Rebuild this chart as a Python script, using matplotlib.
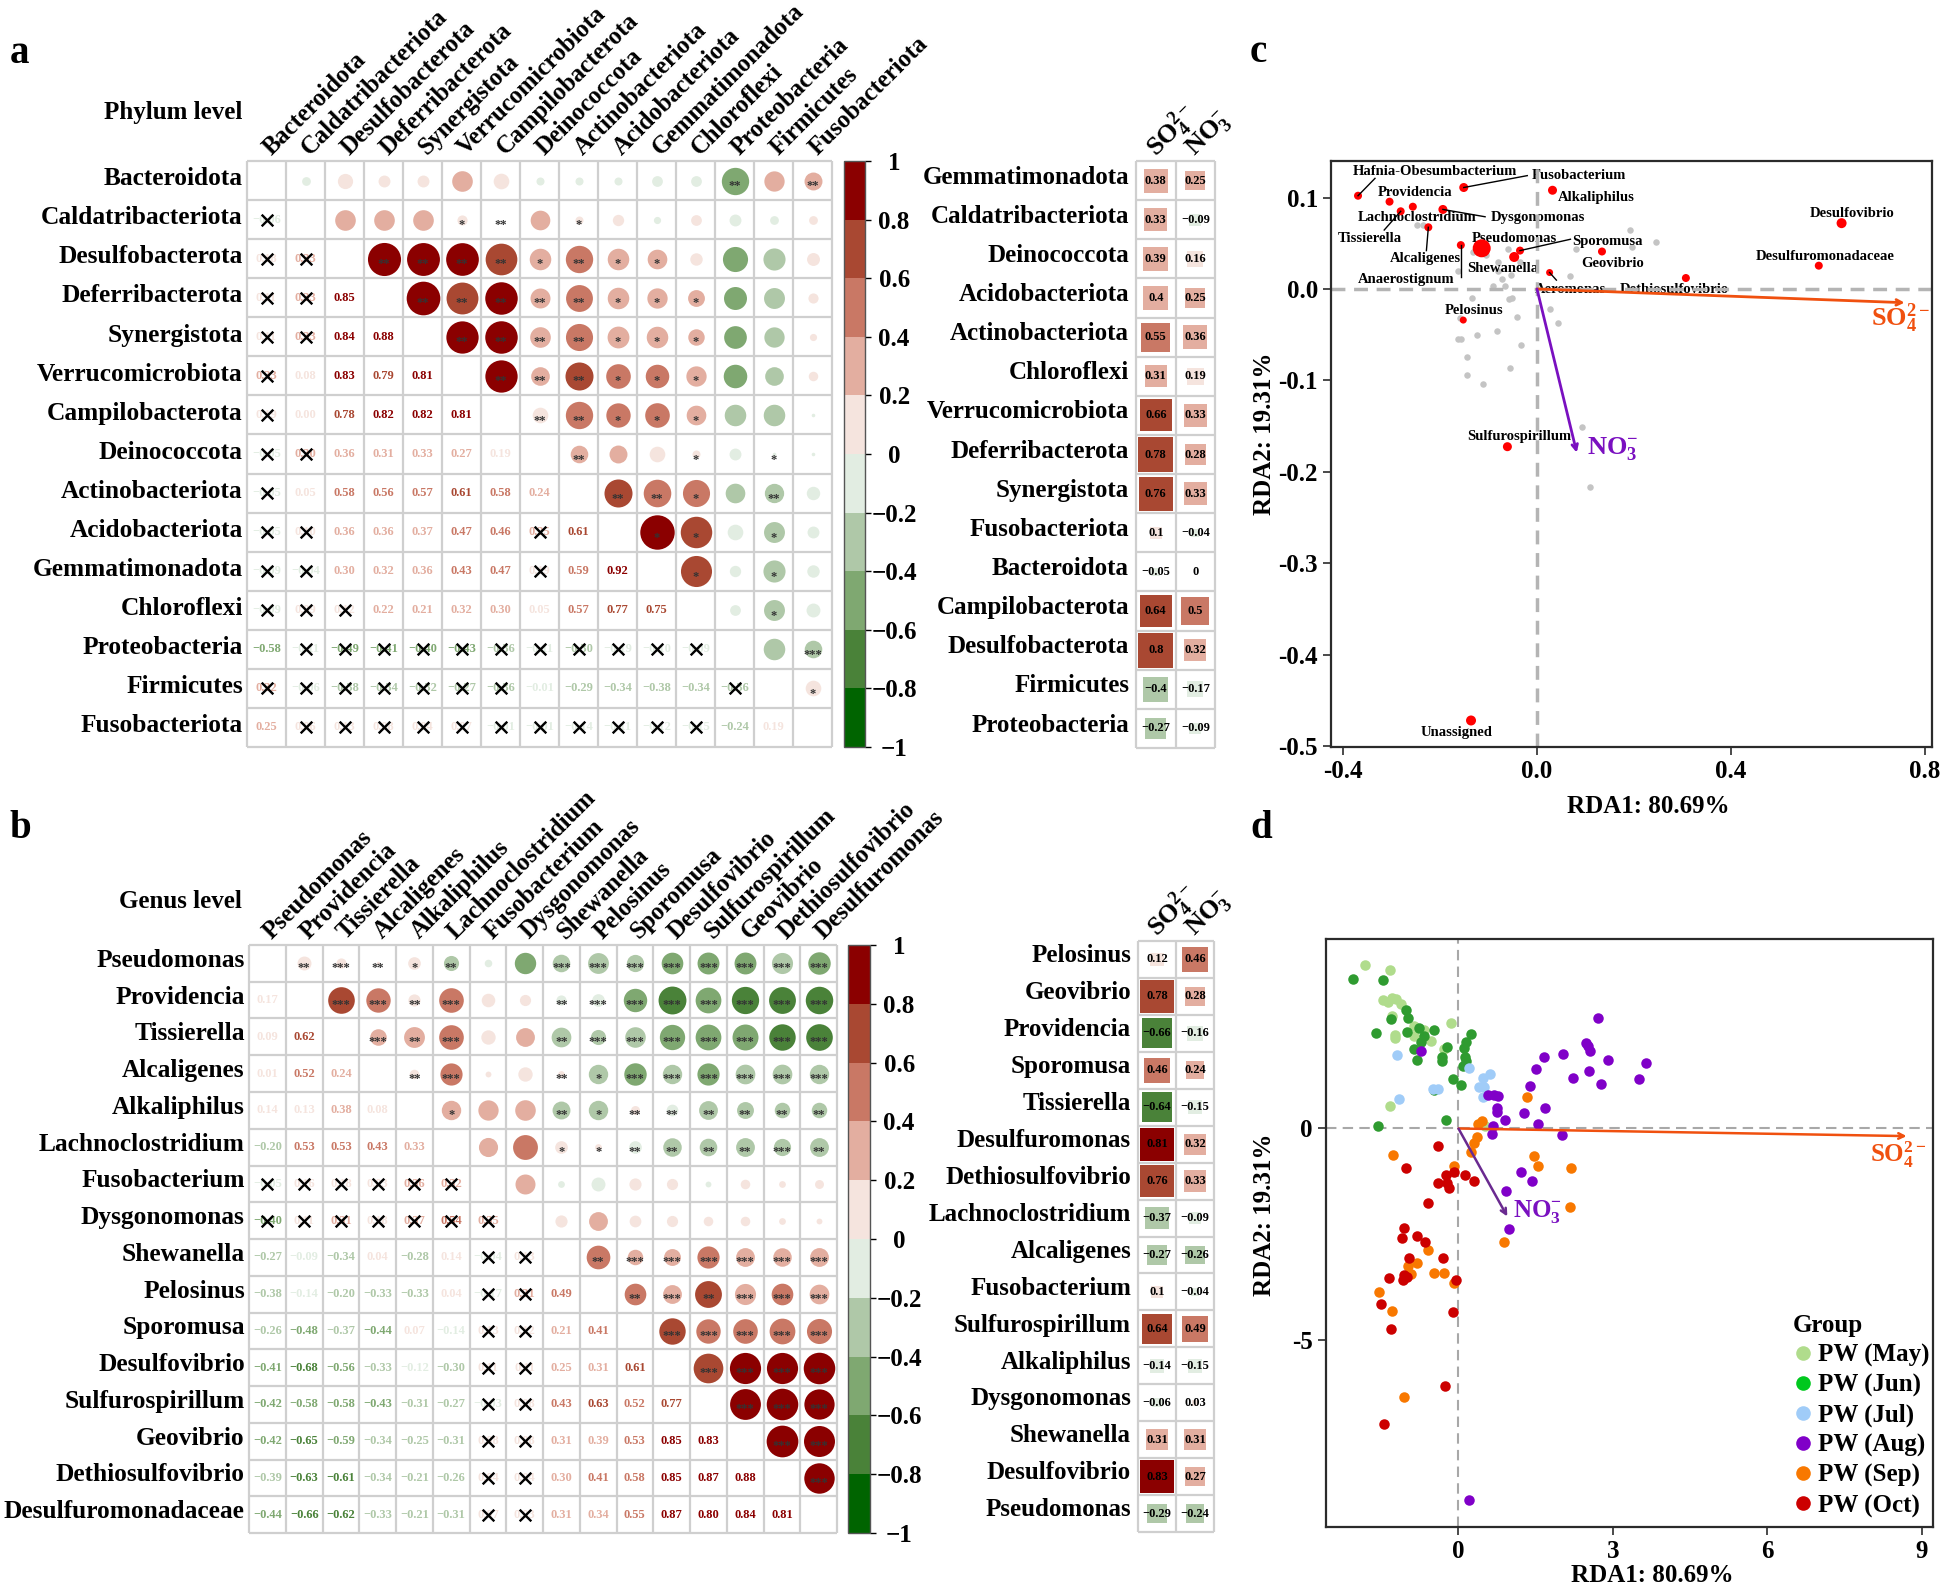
import numpy as np
import matplotlib
matplotlib.use("Agg")
import matplotlib.pyplot as plt
from matplotlib.cm import ScalarMappable
from matplotlib.colors import BoundaryNorm, ListedColormap
from matplotlib.lines import Line2D
from matplotlib.patches import Rectangle

plt.rcParams['font.family'] = ['Liberation Serif', 'DejaVu Serif']
plt.rcParams['font.weight'] = 'bold'
plt.rcParams['axes.labelweight'] = 'bold'
plt.rcParams['mathtext.fontset'] = 'custom'
plt.rcParams['mathtext.rm'] = 'Liberation Serif'
plt.rcParams['mathtext.it'] = 'Liberation Serif:italic'
plt.rcParams['mathtext.bf'] = 'Liberation Serif:bold'

W, H = 1944, 1582

# Panel a: phylum correlations
phyla = ["Bacteroidota", "Caldatribacteriota", "Desulfobacterota", "Deferribacterota",
         "Synergistota", "Verrucomicrobiota", "Campilobacterota", "Deinococcota",
         "Actinobacteriota", "Acidobacteriota", "Gemmatimonadota", "Chloroflexi",
         "Proteobacteria", "Firmicutes", "Fusobacteriota"]
phyla_r = [
    [-0.06],
    [0.18, 0.33],
    [0.11, 0.33, 0.85],
    [0.11, 0.33, 0.84, 0.88],
    [0.33, 0.08, 0.83, 0.79, 0.81],
    [0.19, 0.00, 0.78, 0.82, 0.82, 0.81],
    [-0.05, 0.30, 0.36, 0.31, 0.33, 0.27, 0.19],
    [-0.05, 0.05, 0.58, 0.56, 0.57, 0.61, 0.58, 0.24],
    [-0.05, 0.10, 0.36, 0.36, 0.37, 0.47, 0.46, 0.25, 0.61],
    [-0.09, -0.04, 0.30, 0.32, 0.36, 0.43, 0.47, 0.19, 0.59, 0.92],
    [-0.09, 0.09, 0.12, 0.22, 0.21, 0.32, 0.30, 0.05, 0.57, 0.77, 0.75],
    [-0.58, -0.11, -0.49, -0.41, -0.40, -0.43, -0.36, -0.11, -0.30, -0.19, -0.10, -0.09],
    [0.32, -0.06, -0.38, -0.34, -0.32, -0.27, -0.36, -0.01, -0.29, -0.34, -0.38, -0.34, -0.36],
    [0.25, 0.06, 0.13, 0.08, 0.04, 0.07, -0.01, -0.01, -0.14, -0.11, -0.12, -0.15, -0.24, 0.19],
]
phyla_stars = [
    ["", "", "", "", "", "", "", "", "", "", "", "**", "", "**"],
    ["", "", "", "*", "**", "", "*", "", "", "", "", "", ""],
    ["**", "**", "**", "**", "*", "**", "*", "*", "", "", "", ""],
    ["**", "**", "**", "**", "**", "*", "*", "*", "", "", ""],
    ["**", "**", "**", "**", "*", "*", "*", "", "", ""],
    ["**", "**", "**", "*", "*", "*", "", "", ""],
    ["**", "**", "*", "*", "*", "", "", ""],
    ["**", "", "", "*", "", "*", ""],
    ["**", "**", "*", "", "**", ""],
    ["*", "*", "", "*", ""],
    ["*", "", "*", ""],
    ["", "*", ""],
    ["", "***"],
    ["*"],
]
phyla_env = ["Gemmatimonadota", "Caldatribacteriota", "Deinococcota", "Acidobacteriota",
             "Actinobacteriota", "Chloroflexi", "Verrucomicrobiota", "Deferribacterota",
             "Synergistota", "Fusobacteriota", "Bacteroidota", "Campilobacterota",
             "Desulfobacterota", "Firmicutes", "Proteobacteria"]
phyla_so4 = [0.38, 0.33, 0.39, 0.4, 0.55, 0.31, 0.66, 0.78, 0.76, 0.1, -0.05, 0.64, 0.8, -0.4, -0.27]
phyla_no3 = [0.25, -0.09, 0.16, 0.25, 0.36, 0.19, 0.33, 0.28, 0.33, -0.04, 0, 0.5, 0.32, -0.17, -0.09]

# Panel b: genus correlations
genus_rows = ["Pseudomonas", "Providencia", "Tissierella", "Alcaligenes", "Alkaliphilus",
              "Lachnoclostridium", "Fusobacterium", "Dysgonomonas", "Shewanella", "Pelosinus",
              "Sporomusa", "Desulfovibrio", "Sulfurospirillum", "Geovibrio",
              "Dethiosulfovibrio", "Desulfuromonadaceae"]
genus_cols = genus_rows[:-1] + ["Desulfuromonas"]
genus_r = [
    [0.17],
    [0.09, 0.62],
    [0.01, 0.52, 0.24],
    [0.14, 0.13, 0.38, 0.08],
    [-0.20, 0.53, 0.53, 0.43, 0.33],
    [-0.05, 0.16, 0.18, 0.03, 0.36, 0.32],
    [-0.40, 0.11, 0.31, 0.18, 0.37, 0.54, 0.35],
    [-0.27, -0.09, -0.34, 0.04, -0.28, 0.14, -0.04, 0.13],
    [-0.38, -0.14, -0.20, -0.33, -0.33, 0.04, -0.17, 0.31, 0.49],
    [-0.26, -0.48, -0.37, -0.44, 0.07, -0.14, 0.13, 0.12, 0.21, 0.41],
    [-0.41, -0.68, -0.56, -0.33, -0.12, -0.30, 0.11, 0.11, 0.25, 0.31, 0.61],
    [-0.42, -0.58, -0.58, -0.43, -0.31, -0.27, -0.03, 0.08, 0.43, 0.63, 0.52, 0.77],
    [-0.42, -0.65, -0.59, -0.34, -0.25, -0.31, 0.08, 0.08, 0.31, 0.39, 0.53, 0.85, 0.83],
    [-0.39, -0.63, -0.61, -0.34, -0.21, -0.26, 0.04, 0.04, 0.30, 0.41, 0.58, 0.85, 0.87, 0.88],
    [-0.44, -0.66, -0.62, -0.33, -0.21, -0.31, 0.07, 0.03, 0.31, 0.34, 0.55, 0.87, 0.80, 0.84, 0.81],
]
genus_stars = [
    ["**", "***", "**", "*", "**", "", "", "***", "***", "***", "***", "***", "***", "***", "***"],
    ["***", "***", "**", "***", "", "", "**", "***", "***", "***", "***", "***", "***", "***"],
    ["***", "**", "***", "", "", "**", "***", "***", "***", "***", "***", "***", "***"],
    ["**", "***", "", "", "**", "*", "***", "***", "***", "***", "***", "***"],
    ["*", "", "", "**", "*", "**", "**", "**", "**", "**", "**"],
    ["", "", "*", "*", "**", "**", "**", "**", "***", "**"],
    ["", "", "", "", "", "", "", "", ""],
    ["", "", "", "", "", "", "", ""],
    ["**", "***", "***", "***", "***", "***", "***"],
    ["**", "***", "**", "***", "***", "***"],
    ["***", "***", "***", "***", "***"],
    ["***", "***", "***", "***"],
    ["***", "***", "***"],
    ["***", "***"],
    ["***"],
]
genus_env = ["Pelosinus", "Geovibrio", "Providencia", "Sporomusa", "Tissierella", "Desulfuromonas",
             "Dethiosulfovibrio", "Lachnoclostridium", "Alcaligenes", "Fusobacterium",
             "Sulfurospirillum", "Alkaliphilus", "Dysgonomonas", "Shewanella", "Desulfovibrio",
             "Pseudomonas"]
genus_so4 = [0.12, 0.78, -0.66, 0.46, -0.64, 0.81, 0.76, -0.37, -0.27, 0.1, 0.64, -0.14, -0.06, 0.31, 0.83, -0.29]
genus_no3 = [0.46, 0.28, -0.16, 0.24, -0.15, 0.32, 0.33, -0.09, -0.26, -0.04, 0.49, -0.15, 0.03, 0.31, 0.27, -0.24]

# Panel c: taxa scores
top_names = ["Hafnia-Obesumbacterium", "Fusobacterium", "Providencia", "Alkaliphilus", "Lachnoclostridium",
             "Dysgonomonas", "Tissierella", "Pseudomonas", "Sporomusa", "Alcaligenes", "Shewanella",
             "Geovibrio", "Anaerostignum", "Aeromonas", "Dethiosulfovibrio", "Pelosinus", "Sulfurospirillum",
             "Unassigned", "Desulfovibrio", "Desulfuromonadaceae"]
top_name_x = [-0.21, 0.086, -0.252, 0.122, -0.248, 0.002, -0.345, -0.047, 0.146, -0.231, -0.07,
              0.156, -0.269, 0.07, 0.284, -0.13, -0.036, -0.165, 0.65, 0.594]
top_name_y = [0.129, 0.1236, 0.106, 0.100, 0.0777, 0.078, 0.0554, 0.055, 0.052, 0.033, 0.0226,
              0.0284, 0.010, -0.001, -0.001, -0.024, -0.161, -0.485, 0.083, 0.036]
red_x = [-0.369, -0.304, -0.256, -0.281, -0.194, -0.151, 0.032, -0.224, -0.157, -0.114, -0.035,
         -0.047, 0.134, 0.026, 0.307, 0.628, 0.581, -0.152, -0.061, -0.136]
red_y = [0.102, 0.0955, 0.090, 0.085, 0.087, 0.111, 0.108, 0.0675, 0.048, 0.0445, 0.042,
         0.035, 0.041, 0.018, 0.012, 0.072, 0.0255, -0.034, -0.1725, -0.472]
red_size = [8, 8, 8, 8, 9, 9, 9, 8, 8, 18, 8, 10, 8, 7, 8, 10, 8, 7, 9, 10]
gray_x = [0.192, 0.246, 0.195, 0.081, -0.248, -0.235, -0.059, -0.131, -0.105, -0.035, -0.081, -0.081,
          -0.073, -0.054, 0.069, -0.162, -0.09, -0.065, -0.134, -0.058, -0.052, 0.026, -0.042, 0.043,
          -0.159, -0.083, -0.123, -0.162, -0.157, -0.033, -0.145, -0.055, -0.144, -0.112, 0.092, 0.11]
gray_y = [0.065, 0.051, 0.0456, 0.044, 0.07, 0.07, 0.044, 0.0405, 0.037, 0.029, 0.029, 0.02,
          0.011, 0.015, 0.014, 0.02, 0.003, 0.003, -0.0095, -0.011, -0.0095, -0.022, -0.031, -0.037,
          -0.032, -0.046, -0.05, -0.055, -0.055, -0.0616, -0.074, -0.086, -0.094, -0.104, -0.151, -0.217]
# point -> label end
leaders = [(-0.369, 0.102, -0.334, 0.121), (-0.151, 0.111, -0.02, 0.124), (-0.281, 0.085, -0.315, 0.0645),
           (-0.194, 0.087, -0.107, 0.079), (-0.224, 0.0675, -0.228, 0.042), (-0.157, 0.048, -0.157, 0.0135),
           (-0.035, 0.042, 0.069, 0.0544), (0.026, 0.018, 0.04, 0.0097)]
so4_taxa = (0.758, -0.015)
no3_taxa = (0.082, -0.179)

# Panel d: sample scores
groups = ["PW (May)", "PW (Jun)", "PW (Jul)", "PW (Aug)", "PW (Sep)", "PW (Oct)"]
may_x = [-1.81, -1.33, -1.47, -1.37, -1.30, -1.22, -1.11, -1.30, -0.14, -0.86, -1.24, -1.24, -0.86, -0.54, -0.67, -0.28, -1.33, 0.51]
may_y = [3.86, 3.75, 3.04, 3.0, 3.09, 3.05, 2.95, 2.67, 2.5, 2.43, 2.2, 2.14, 2.18, 2.06, 2.33, 1.87, 0.54, 0.06]
jun_x = [-2.05, -1.47, -1.01, -0.99, -1.32, -1.61, -1.0, -0.76, -0.48, -0.66, -0.73, -0.87, -0.80, -0.22, -0.31, -0.31, 0.25, 0.15, 0.10, 0.13, 0.14, 0.09, -0.11, 0.05, -0.47, -0.24, -1.57]
jun_y = [3.54, 3.51, 2.79, 2.61, 2.59, 2.26, 2.29, 2.37, 2.33, 2.18, 2.05, 1.88, 1.63, 1.93, 1.69, 1.59, 2.23, 2.04, 1.91, 1.70, 1.60, 1.47, 1.17, 1.03, 0.91, 0.21, 0.07]
jul_x = [-1.19, 0.21, 0.61, 0.48, 0.40, 0.49, -0.50, -0.39, 0.47, -1.16]
jul_y = [1.74, 1.42, 1.30, 1.20, 0.98, 0.97, 0.93, 0.93, 0.74, 0.69]
aug_x = [2.71, 2.47, 2.51, 2.56, -0.73, 2.03, 1.67, 2.91, 3.64, 1.51, 2.54, 2.23, 3.50, 2.77, 1.39, 0.58, 0.69, 0.77, 0.75, 0.74, 1.68, 1.27, 0.91, 1.54, 0.68, 0.65, 2.02, 1.21, 1.42, 0.92, 0.99, 0.21]
aug_y = [2.62, 2.01, 1.96, 1.84, 1.84, 1.75, 1.69, 1.62, 1.55, 1.40, 1.37, 1.20, 1.16, 1.06, 1.01, 0.78, 0.80, 0.77, 0.49, 0.40, 0.49, 0.36, 0.19, 0.11, 0.05, -0.12, -0.16, -1.02, -1.23, -1.48, -2.38, -8.79]
sep_x = [1.33, 0.45, 0.38, 0.36, 0.31, 0.24, -1.27, 1.47, 1.55, 2.18, -0.08, 2.17, 0.88, -0.60, -0.81, -0.99, -0.92, -0.47, -0.29, -0.09, -1.54, -1.30, -1.05]
sep_y = [0.75, 0.17, 0.11, -0.20, -0.35, -0.56, -0.62, -0.64, -0.88, -0.93, -0.88, -1.86, -2.68, -2.88, -3.18, -3.26, -3.45, -3.42, -3.42, -3.66, -3.86, -4.32, -6.35]
oct_x = [-0.39, -1.01, -0.24, -0.08, 0.13, 0.30, -0.39, -0.22, -0.19, -0.60, -1.06, -1.10, -0.81, -0.65, -0.97, -0.30, -1.34, -1.06, -1.0, -1.08, -0.05, -1.50, -1.31, -0.10, -0.27, -1.44]
oct_y = [-0.41, -0.94, -1.09, -1.04, -1.10, -1.25, -1.30, -1.30, -1.41, -1.76, -2.36, -2.58, -2.54, -2.69, -3.07, -3.06, -3.53, -3.46, -3.52, -3.58, -3.59, -4.14, -4.74, -4.35, -6.10, -6.98]
so4_sample = (8.71, -0.18)
no3_sample = (0.95, -2.08)

level_colors = ["#006400", "#4a8239", "#7fa871", "#afc8a8", "#e2ede2",
                "#f5e4de", "#e3aea0", "#c97865", "#a94832", "#8b0000"]
point_colors = ["#b0dc8c", "#2f9b30", "#a0ccf8", "#8000c8", "#f87800", "#cc0000"]
legend_colors = ["#b0dc8c", "#00c81e", "#a0ccf8", "#8000c8", "#f87800", "#cc0000"]
orange_arrow = "#f0500f"

bounds = np.linspace(-1, 1, 11)
cmap = ListedColormap(level_colors)
norm = BoundaryNorm(bounds, cmap.N)


def px_axes(fig, left, top, right, bottom):
    return fig.add_axes([left / W, 1 - bottom / H, (right - left) / W, (bottom - top) / H])


def minus(s):
    return s.replace("-", "\u2212")


def draw_grid(ax, ncol, nrow):
    ax.set_xlim(0, ncol)
    ax.set_ylim(nrow, 0)
    ax.vlines(np.arange(ncol + 1), 0, nrow, color="#cfcfcf", lw=1.6, clip_on=False)
    ax.hlines(np.arange(nrow + 1), 0, ncol, color="#cfcfcf", lw=1.6, clip_on=False)
    for spine in ax.spines.values():
        spine.set_visible(False)
    ax.tick_params(length=0)


def draw_corr(ax, row_names, col_names, lower, stars, cell_px, row_pos, text_size):
    n = len(row_names)
    draw_grid(ax, n, n)
    ax.xaxis.tick_top()
    ax.set_xticks(np.arange(n) + 0.5)
    ax.set_xticklabels(col_names, rotation=45, ha="left", va="center",
                       rotation_mode="anchor", fontsize=17.7)
    ax.tick_params(axis="x", pad=7)
    ax.set_yticks(np.arange(n) + row_pos)
    ax.set_yticklabels(row_names, fontsize=18.3)
    ax.tick_params(axis="y", pad=3)
    for i, row in enumerate(lower, start=1):
        for j, v in enumerate(row):
            # numbers below the diagonal
            ax.text(j + 0.5, i + 0.5, minus(f"{v:.2f}"), color=cmap(norm(v)), ha="center",
                    va="center", fontsize=text_size)
            # circle and stars above it
            d = 0.92 * cell_px * np.sqrt(abs(v)) * 0.72
            ax.scatter(i + 0.5, j + 0.5, s=d ** 2, color=cmap(norm(v)), linewidths=0, zorder=2)
            mark = stars[j][i - j - 1]
            if mark:
                ax.text(i + 0.5, j + 0.72, mark, color="#333333", ha="center", va="baseline",
                        fontsize=9, zorder=3)
            else:
                ax.scatter(j + 0.5, i + 0.5, s=70, marker="x", color="black", linewidths=1.7, zorder=4)


def draw_colorbar(cax):
    cb = plt.colorbar(ScalarMappable(norm=norm, cmap=cmap), cax=cax, ticks=bounds)
    labels = ["\u22121", "\u22120.8", "\u22120.6", "\u22120.4", "\u22120.2", "0", "0.2", "0.4", "0.6", "0.8", "1"]
    cb.ax.set_yticklabels(labels, fontsize=18)
    cb.ax.tick_params(length=4, width=1, pad=17, colors="black")
    for lab in cb.ax.get_yticklabels():
        lab.set_ha("center")
    cb.outline.set_linewidth(1)
    cb.outline.set_edgecolor("#555555")


def draw_env(ax, names, so4, no3, row_pos):
    n = len(names)
    draw_grid(ax, 2, n)
    ax.set_yticks(np.arange(n) + row_pos)
    ax.set_yticklabels(names, fontsize=18)
    ax.tick_params(axis="y", pad=5)
    ax.xaxis.tick_top()
    ax.set_xticks([0.38, 1.38])
    ax.set_xticklabels([r"$\mathbf{SO_4^{2-}}$", r"$\mathbf{NO_3^{-}}$"], rotation=45, ha="left",
                       va="center", rotation_mode="anchor", fontsize=19)
    ax.tick_params(axis="x", pad=6)
    for col, values in enumerate([so4, no3]):
        for i, v in enumerate(values):
            side = np.sqrt(abs(v))
            # a value on a level boundary takes the paler level
            level = np.sign(v) * (abs(v) - 1e-6)
            ax.add_patch(Rectangle((col + 0.5 - side / 2, i + 0.5 - side / 2), side, side,
                                   color=cmap(norm(level)), lw=0))
            ax.text(col + 0.5, i + 0.5, minus(f"{v:g}"), color="black", ha="center", va="center", fontsize=9)


def style_scatter_axes(ax):
    for spine in ax.spines.values():
        spine.set_linewidth(1.6)
        spine.set_color("#2b2b2b")
    ax.tick_params(length=6, width=1.2, labelsize=18, color="#2b2b2b")


fig = plt.figure(figsize=(W / 100, H / 100), dpi=100)

# a
ax_a = px_axes(fig, 247, 161, 832, 747)
draw_corr(ax_a, phyla, phyla, phyla_r, phyla_stars, 39, 0.39, 9)
draw_colorbar(px_axes(fig, 844, 161, 865, 747))
draw_env(px_axes(fig, 1136, 161, 1215, 748), phyla_env, phyla_so4, phyla_no3, 0.35)

# b
ax_b = px_axes(fig, 249, 945, 837, 1533)
draw_corr(ax_b, genus_rows, genus_cols, genus_r, genus_stars, 36.75, 0.35, 9)
draw_colorbar(px_axes(fig, 848, 945, 870, 1533))
draw_env(px_axes(fig, 1138, 941, 1214, 1532), genus_env, genus_so4, genus_no3, 0.33)

fig.text(242 / W, 1 - 112 / H, "Phylum level", ha="right", va="center", fontsize=18)
fig.text(242 / W, 1 - 902 / H, "Genus level", ha="right", va="center", fontsize=18)
for letter, x, y in [("a", 10, 63), ("b", 9, 838), ("c", 1250, 62), ("d", 1250, 838)]:
    fig.text(x / W, 1 - y / H, letter, fontsize=28, ha="left", va="baseline")

# c
ax_c = px_axes(fig, 1331, 161, 1931.5, 747)
ax_c.set_xlim(-0.4247, 0.8134)
ax_c.set_ylim(-0.501, 0.14)
ax_c.axhline(0, color="#b4b4b4", lw=2.5, ls=(0, (4, 2.5)), zorder=2)
ax_c.axvline(0, color="#b4b4b4", lw=2.5, ls=(0, (4, 2.5)), zorder=2)
ax_c.scatter(gray_x, gray_y, s=(6.5 * 0.72) ** 2, color="#c4c4c4", linewidths=0, zorder=1)
ax_c.scatter(red_x, red_y, s=(np.array(red_size) * 0.72) ** 2, color="#ff0000", linewidths=0, zorder=3)
for x0, y0, x1, y1 in leaders:
    ax_c.plot([x0, x1], [y0, y1], color="black", lw=1, zorder=3)
for name, x, y in zip(top_names, top_name_x, top_name_y):
    ax_c.text(x, y, name, ha="center", va="center", fontsize=10.5, zorder=1)
ax_c.annotate("", xy=so4_taxa, xytext=(0, 0), zorder=4,
              arrowprops=dict(arrowstyle="->", color=orange_arrow, lw=2, shrinkA=0, shrinkB=0))
ax_c.annotate("", xy=no3_taxa, xytext=(0, 0), zorder=4,
              arrowprops=dict(arrowstyle="->", color="#7a10c0", lw=2, shrinkA=0, shrinkB=0))
ax_c.text(0.749, -0.032, r"$\mathbf{SO_4^{2-}}$", color=orange_arrow, ha="center", va="center", fontsize=19)
ax_c.text(0.156, -0.174, r"$\mathbf{NO_3^{-}}$", color="#7a10c0", ha="center", va="center", fontsize=19)
ax_c.set_xticks([-0.4, 0, 0.4, 0.8])
ax_c.set_xticklabels(["-0.4", "0.0", "0.4", "0.8"])
ax_c.set_yticks([-0.5, -0.4, -0.3, -0.2, -0.1, 0, 0.1])
ax_c.set_yticklabels(["-0.5", "-0.4", "-0.3", "-0.2", "-0.1", "0.0", "0.1"])
style_scatter_axes(ax_c)
ax_c.set_xlabel("RDA1: 80.69%", fontsize=18)
ax_c.set_ylabel("RDA2: 19.31%", fontsize=18)
ax_c.xaxis.set_label_coords(0.528, -0.082)
ax_c.yaxis.set_label_coords(-0.092, 0.535)

# d
ax_d = px_axes(fig, 1326, 939, 1933, 1526.5)
ax_d.set_xlim(-2.574, 9.223)
ax_d.set_ylim(-9.41, 4.48)
ax_d.axhline(0, color="#a8a8a8", lw=1.5, ls=(0, (5, 3)), zorder=1)
ax_d.axvline(0, color="#a8a8a8", lw=1.5, ls=(0, (5, 3)), zorder=1)
series = [(may_x, may_y), (jun_x, jun_y), (jul_x, jul_y), (aug_x, aug_y), (sep_x, sep_y), (oct_x, oct_y)]
for (xs, ys), color in zip(series, point_colors):
    ax_d.scatter(xs, ys, s=(10.5 * 0.72) ** 2, color=color, linewidths=0, zorder=2)
ax_d.annotate("", xy=so4_sample, xytext=(0, 0), zorder=3,
              arrowprops=dict(arrowstyle="->", color=orange_arrow, lw=1.8, shrinkA=0, shrinkB=0))
ax_d.annotate("", xy=no3_sample, xytext=(0, 0), zorder=3,
              arrowprops=dict(arrowstyle="->", color="#6a2a90", lw=1.8, shrinkA=0, shrinkB=0))
ax_d.text(8.55, -0.61, r"$\mathbf{SO_4^{2-}}$", color=orange_arrow, ha="center", va="center", fontsize=18)
ax_d.text(1.54, -1.96, r"$\mathbf{NO_3^{-}}$", color="#7a10c0", ha="center", va="center", fontsize=18)
ax_d.set_xticks([0, 3, 6, 9])
ax_d.set_yticks([-5, 0])
ax_d.set_yticklabels(["-5", "0"])
style_scatter_axes(ax_d)
ax_d.set_xlabel("RDA1: 80.69%", fontsize=18)
ax_d.set_ylabel("RDA2: 19.31%", fontsize=18)
ax_d.xaxis.set_label_coords(0.538, -0.063)
ax_d.yaxis.set_label_coords(-0.082, 0.53)
handles = [Line2D([], [], ls="", marker="o", ms=10.5, color=c, mew=0) for c in legend_colors]
leg = ax_d.legend(handles, groups, title="Group", title_fontproperties={"size": 18, "weight": "bold"},
                  frameon=False, fontsize=18, loc="lower right", bbox_to_anchor=(1.027, -0.019),
                  labelspacing=0.27, handletextpad=0.2, handlelength=0.8, borderpad=0.3)
leg._legend_box.align = "left"

fig.savefig("out.png", dpi=100)
